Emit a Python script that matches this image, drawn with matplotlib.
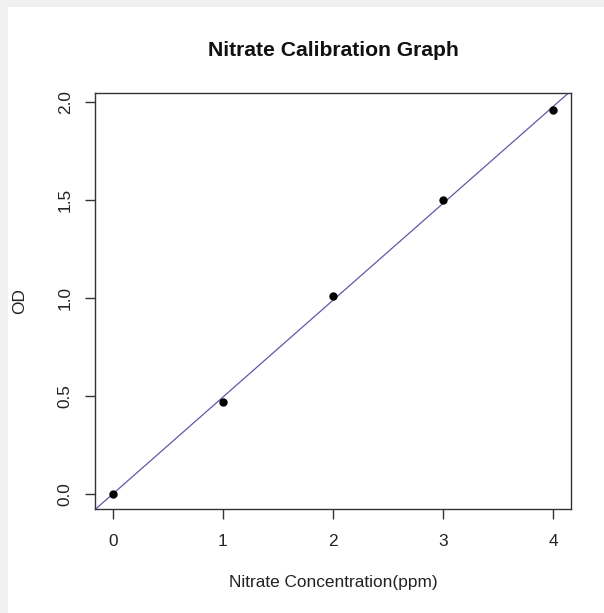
import numpy as np
import matplotlib
matplotlib.use('Agg')
import matplotlib.pyplot as plt
from matplotlib.patches import Rectangle

plt.rcParams['font.family'] = ['Liberation Sans', 'DejaVu Sans']

# --- calibration standards ---
concentration = [0, 1, 2, 3, 4]          # ppm
od = [0.00, 0.47, 1.01, 1.50, 1.96]
x_ticks = [0, 1, 2, 3, 4]
y_ticks = [0.0, 0.5, 1.0, 1.5, 2.0]
y_tick_labels = ['0.0', '0.5', '1.0', '1.5', '2.0']

# least-squares line through the standards
slope, intercept = np.polyfit(concentration, od, 1)

fig = plt.figure(figsize=(6.04, 6.13), dpi=100)
fig.patch.set_facecolor('#f0f0f0')
# white page inside the thin grey border, kept behind the axes
fig.patches.append(Rectangle((8 / 604, 0), 1, 1 - 7 / 613, transform=fig.transFigure,
                             facecolor='white', edgecolor='none', zorder=-5))

ax = fig.add_axes([95 / 604, 1 - 509 / 613, 476 / 604, 416 / 613])
ax.set_facecolor('white')

ax.plot(concentration, od, 'o', color='black', markersize=5, zorder=3)
ax.axline((0, intercept), slope=slope, color='#5a5aa8', linewidth=0.9, zorder=2)

ax.set_xlim(-0.16, 4.16)
ax.set_ylim(-0.078, 2.046)
ax.set_xticks(x_ticks)
ax.set_xticklabels([str(t) for t in x_ticks])
ax.set_yticks(y_ticks)
ax.set_yticklabels(y_tick_labels, rotation=90, va='center')

for side in ax.spines.values():
    side.set_color('#333333')
    side.set_linewidth(1.0)

ax.tick_params(axis='both', direction='out', length=7, width=1.0, color='#333333',
               labelsize=12.4, labelcolor='#222222')
ax.tick_params(axis='x', pad=11)
ax.tick_params(axis='y', pad=9)

fig.text(333 / 604, 1 - 50 / 613, 'Nitrate Calibration Graph', ha='center', va='center',
         fontsize=15.2, fontweight='bold', color='#111111')
fig.text(333 / 604, 1 - 583 / 613, 'Nitrate Concentration(ppm)', ha='center', va='center',
         fontsize=12.4, color='#222222')
fig.text(20 / 604, 1 - 301 / 613, 'OD', ha='center', va='center', rotation=90,
         fontsize=12.4, color='#222222')

fig.savefig('out.png', dpi=100, facecolor=fig.get_facecolor())
